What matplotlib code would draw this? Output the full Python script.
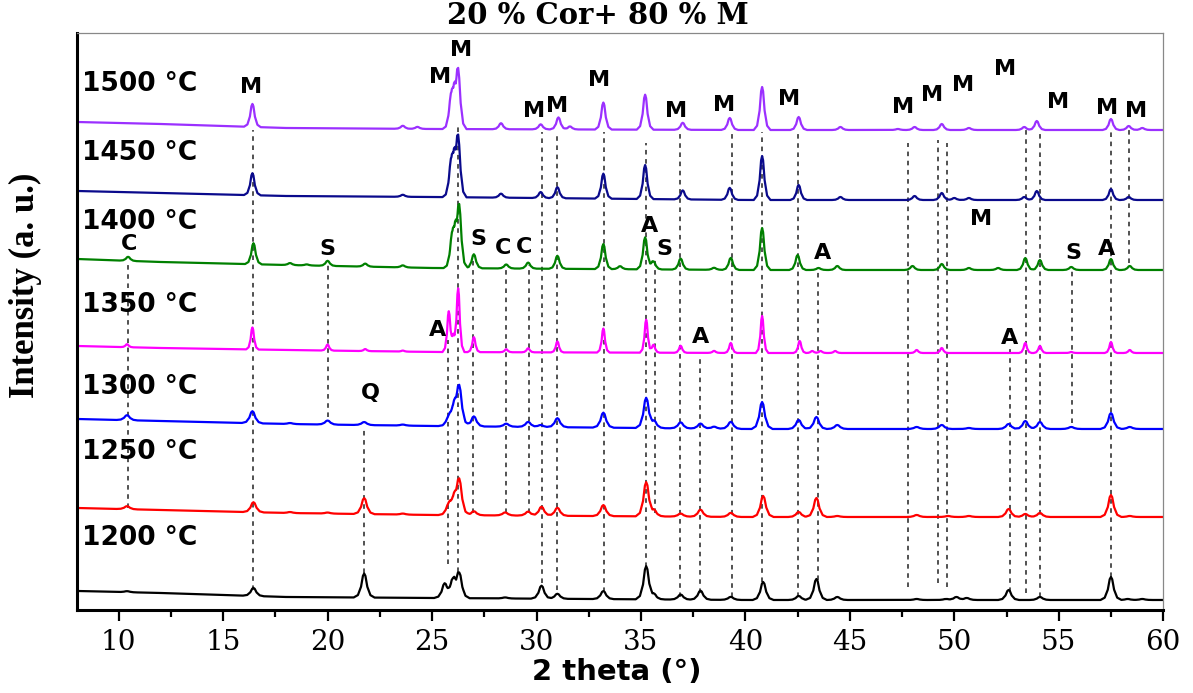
import numpy as np
import matplotlib.pyplot as plt

# XRD patterns of the 20 % Cor + 80 % M body fired at 1200-1500 °C
# intensities are in arbitrary units, each pattern already stacked by its offset
temps = ['1200 °C', '1250 °C', '1300 °C', '1350 °C', '1400 °C', '1450 °C', '1500 °C']
colors = ['black', '#ff0000', '#0000ff', '#ff00ff', '#008000', '#0a0a8c', '#9b30ff']
halfw = [0.5, 0.5, 0.5, 0.3, 0.4, 0.4, 0.4]

# reflection shape (offset in units of the half width, relative height)
prof_off = [-1, -0.6, -0.3, -0.12, 0, 0.12, 0.3, 0.6, 1]
prof_val = [0, 0.1, 0.45, 0.9, 1, 0.9, 0.45, 0.1, 0]

base_x = [8, 12, 18, 25, 40, 60]
base_1200 = [19, 17, 13, 12, 10, 10]
base_1250 = [102, 100, 97, 95, 93, 93]
base_1300 = [191, 189, 186, 184, 181, 181]
base_1350 = [264, 262, 260, 258, 257, 257]
base_1400 = [351, 348, 345, 342, 340, 340]
base_1450 = [419, 417, 414, 413, 410, 410]
base_1500 = [488, 486, 482, 481, 480, 480]

pos_1200 = [10.4, 16.45, 21.75, 25.6, 26.0, 26.3, 28.5, 30.24, 31.0, 33.2, 35.25, 35.65,
            36.9, 37.85, 39.3, 40.85, 42.55, 43.4, 44.4, 48.2, 49.6, 50.1, 50.6, 52.6,
            54.1, 57.5, 58.3, 59.0]
hgt_1200 = [1, 8, 24, 14, 17, 24, 1, 13, 5, 8, 33, 4,
            5, 9, 3, 18, 4, 21, 3, 1, 1, 3, 2, 10,
            3, 23, 1, 1]

pos_1250 = [10.4, 16.45, 18.2, 20.0, 21.75, 23.6, 25.8, 26.05, 26.3, 27.0, 28.5, 29.6,
            30.24, 31.0, 33.2, 35.25, 35.65, 36.9, 37.85, 39.3, 40.85, 42.55, 43.4, 44.4,
            48.2, 49.7, 50.7, 52.6, 53.4, 54.1, 57.5, 58.4]
hgt_1250 = [3, 10, 1, 1, 16, 1, 10, 13, 34, 4, 3, 4,
            9, 8, 11, 34, 5, 3, 7, 4, 21, 5, 19, 1,
            2, 1, 1, 8, 3, 4, 22, 1]

pos_1300 = [10.4, 16.4, 18.2, 20.0, 21.75, 23.6, 25.8, 26.05, 26.3, 27.0, 28.55, 29.6,
            30.2, 31.0, 33.2, 35.25, 35.65, 36.9, 37.85, 38.5, 39.3, 40.8, 42.55, 43.4,
            44.4, 48.2, 49.4, 50.7, 52.6, 53.4, 54.1, 55.6, 57.5, 58.4]
hgt_1300 = [5, 12, 1, 4, 3, 1, 8, 16, 38, 10, 3, 5,
            2, 9, 15, 30, 6, 6, 5, 2, 7, 27, 9, 12,
            4, 2, 4, 1, 5, 8, 7, 2, 16, 2]

pos_1350 = [10.4, 16.4, 20.0, 21.8, 23.6, 25.8, 26.02, 26.25, 27.0, 28.55, 29.6, 31.0,
            33.2, 35.25, 35.6, 36.9, 38.5, 39.3, 40.8, 42.6, 43.2, 43.6, 44.3, 48.2,
            49.4, 53.4, 54.1, 55.6, 57.5, 58.4]
hgt_1350 = [3, 22, 6, 2, 1, 40, 12, 63, 15, 3, 4, 11,
            24, 33, 8, 7, 2, 10, 37, 12, 2, 2, 2, 3,
            5, 10, 7, 1, 11, 3]

pos_1400 = [10.45, 16.45, 18.2, 19.0, 20.0, 21.8, 23.6, 25.95, 26.1, 26.3, 27.0, 28.55,
            29.6, 31.0, 33.2, 34.0, 35.2, 35.6, 36.9, 38.5, 39.3, 40.8, 42.5, 43.5,
            44.4, 48.0, 49.4, 50.7, 52.1, 53.4, 54.1, 55.6, 57.5, 58.4]
hgt_1400 = [4, 21, 2, 1, 5, 3, 2, 25, 25, 58, 14, 4,
            6, 13, 25, 3, 32, 8, 11, 2, 12, 42, 15, 2,
            4, 4, 6, 2, 2, 12, 10, 3, 11, 4]

pos_1450 = [16.4, 23.6, 25.9, 26.05, 26.25, 28.3, 30.2, 31.0, 33.2, 35.2, 37.0, 39.25,
            40.8, 42.55, 44.55, 48.1, 49.4, 50.0, 50.7, 53.35, 53.95, 57.5, 58.35]
hgt_1450 = [22, 2, 27, 27, 56, 4, 6, 11, 25, 34, 9, 12,
            44, 15, 3, 4, 7, 2, 2, 3, 9, 11, 3]

pos_1500 = [16.4, 23.6, 24.3, 25.9, 26.05, 26.25, 28.3, 30.2, 31.05, 31.6, 33.2, 35.2,
            37.0, 39.25, 40.8, 42.55, 44.55, 47.3, 48.1, 49.4, 50.7, 53.35, 53.95, 57.5,
            58.35, 59.0]
hgt_1500 = [23, 3, 2, 25, 25, 55, 6, 5, 12, 3, 27, 35,
            7, 12, 43, 13, 3, 1, 3, 6, 2, 3, 9, 11,
            4, 2]

bases = [base_1200, base_1250, base_1300, base_1350, base_1400, base_1450, base_1500]
positions = [pos_1200, pos_1250, pos_1300, pos_1350, pos_1400, pos_1450, pos_1500]
heights = [hgt_1200, hgt_1250, hgt_1300, hgt_1350, hgt_1400, hgt_1450, hgt_1500]
temp_y = [72, 158, 223, 305, 388, 457, 526]

# reference lines: 2theta, upper end, lower end
ref_x = [10.44, 16.42, 20.0, 21.72, 25.78, 26.24, 26.97, 28.53, 29.63, 30.24, 31.0, 33.22,
         35.25, 35.68, 36.89, 37.85, 39.36, 40.79, 42.54, 43.49, 47.78, 49.21, 49.65, 52.68,
         53.42, 54.12, 55.63, 57.52, 58.35]
ref_top = [348, 480, 345, 180, 270, 483, 355, 343, 345, 478, 478, 478,
           467, 353, 478, 255, 478, 478, 478, 342, 467, 470, 467, 263,
           480, 480, 340, 482, 480]
ref_bot = [102, 20, 193, 37, 46, 38, 97, 97, 97, 27, 20, 18,
           43, 97, 13, 17, 13, 28, 13, 30, 23, 27, 23, 18,
           17, 13, 187, 33, 347]

# phase marks: M mullite, C cordierite, S spinel, A alumina, Q quartz
lab_txt = ['M'] * 16 + ['C', 'S', 'S', 'C', 'C', 'A', 'S', 'A', 'M', 'S', 'A'] + ['A', 'A', 'A', 'Q']
lab_x = [16.33, 25.4, 26.4, 29.87, 31.0, 32.98, 36.7, 39.0, 42.1, 47.55, 48.95, 50.4,
         52.45, 54.95, 57.3, 58.7,
         10.5, 20.0, 27.2, 28.4, 29.4, 35.4, 36.1, 43.7, 51.3, 55.7, 57.3,
         25.27, 37.85, 52.65, 22.07]
lab_y = [523, 533, 560, 499, 504, 530, 499, 505, 511, 503, 515, 525,
         541, 508, 502, 499,
         366, 361, 371, 362, 363, 384, 361, 357, 391, 357, 361,
         280, 273, 272, 217]


def pattern(base_y, pos, hgt, w):
    pos = np.asarray(pos, dtype=float)
    offs = np.asarray(prof_off) * w
    xs = np.concatenate([base_x] + [pos + o for o in offs])
    xs = np.unique(xs[(xs >= 8) & (xs <= 60)])
    ys = np.interp(xs, base_x, base_y)
    for p, h in zip(pos, hgt):
        ys = ys + h * np.interp(xs - p, offs, prof_val, left=0, right=0)
    return xs, ys


fig = plt.figure(figsize=(11.93, 6.93), dpi=100)
ax = fig.add_axes([0.0645, 0.1198, 0.9105, 0.8326])

ax.vlines(ref_x, ref_bot, ref_top, colors='#222222', linestyles=(0, (3, 3)), lw=1.1, zorder=1)

for b, p, h, w, c in zip(bases, positions, heights, halfw, colors):
    xs, ys = pattern(b, p, h, w)
    ax.plot(xs, ys, color=c, lw=1.6, zorder=2)

for t, ty in zip(temps, temp_y):
    ax.text(8.25, ty, t, ha='left', va='center', fontsize=19, fontweight='bold',
            family='DejaVu Sans')

for t, x, y in zip(lab_txt, lab_x, lab_y):
    ax.text(x, y, t, ha='center', va='center', fontsize=16, fontweight='bold',
            family='DejaVu Sans')

ax.set_xlim(8, 60)
ax.set_ylim(0, 577)
ax.set_yticks([])
ax.set_xticks(np.arange(10, 61, 5))
ax.set_xticks(np.arange(12.5, 60, 5), minor=True)
ax.tick_params(axis='x', which='major', length=8, width=1.6, direction='out', pad=6)
ax.tick_params(axis='x', which='minor', length=5, width=1.6, direction='out')
for lbl in ax.get_xticklabels():
    lbl.set_family('DejaVu Serif')
    lbl.set_fontsize(20)

for s in ['left', 'bottom']:
    ax.spines[s].set_linewidth(2.2)
for s in ['top', 'right']:
    ax.spines[s].set_linewidth(0.9)
    ax.spines[s].set_color('#888888')

fig.text(598 / 1193, 1 - 15 / 693, '20 % Cor+ 80 % M', ha='center', va='center',
         fontsize=21, fontweight='bold', family='DejaVu Serif')
fig.text(617 / 1193, 1 - 672 / 693, '2 theta (°)', ha='center', va='center',
         fontsize=21, fontweight='bold', family='DejaVu Sans')
fig.text(25 / 1193, 1 - 285 / 693, 'Intensity (a. u.)', ha='center', va='center',
         rotation=90, fontsize=25, fontweight='bold', family='Liberation Serif')

fig.savefig('out.png', dpi=100)
